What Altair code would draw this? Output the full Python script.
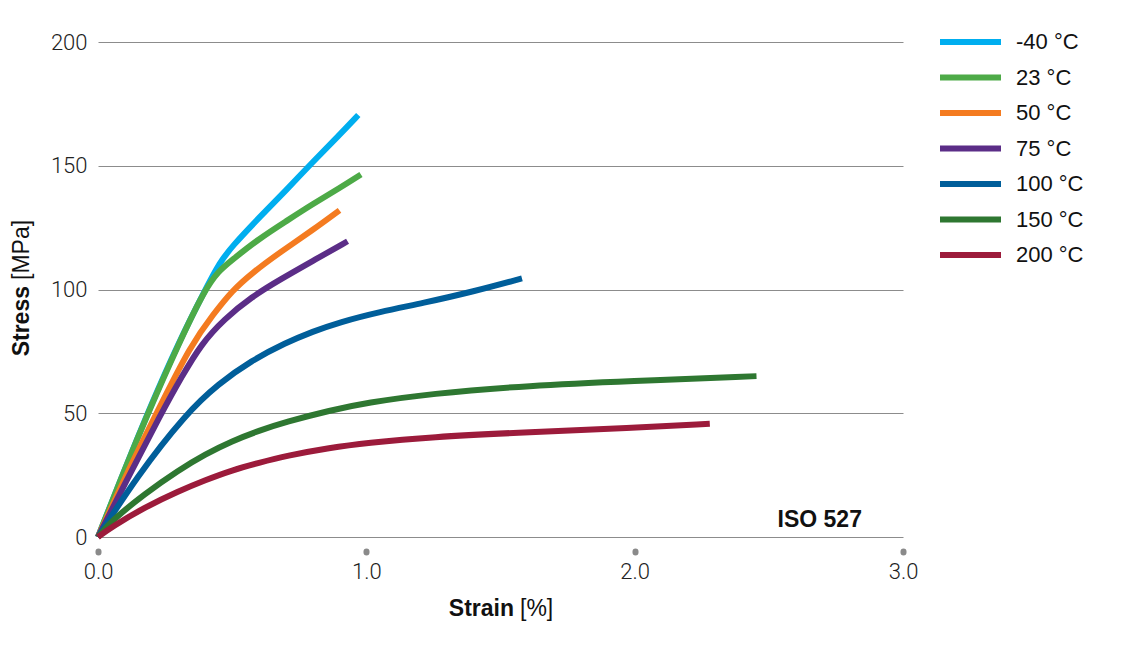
import altair as alt
import pandas as pd

temps = ["-40 °C", "23 °C", "50 °C", "75 °C", "100 °C", "150 °C", "200 °C"]
colors = ["#00AEEF", "#4DAA47", "#F47B20", "#5B2D87", "#005E9A", "#2E7731", "#9C1B3B"]

strain_m40 = [0, 0.1, 0.2, 0.3, 0.4, 0.454, 0.5, 0.6, 0.7, 0.8, 0.9, 0.97]
stress_m40 = [0, 27.5, 54, 78.5, 100, 111, 117.5, 129, 140, 151.5, 162.5, 170.5]

strain_23 = [0, 0.1, 0.186, 0.3, 0.398, 0.45, 0.497, 0.6, 0.7, 0.8, 0.9, 0.98]
stress_23 = [0, 27.5, 50, 78, 100, 107.5, 111.7, 120.5, 127.5, 134.5, 141, 146.5]

strain_50 = [0, 0.1, 0.218, 0.348, 0.43, 0.5, 0.572, 0.678, 0.8, 0.9]
stress_50 = [0, 24, 50, 78, 90, 99.5, 106.5, 115, 124, 132]

strain_75 = [0, 0.1, 0.236, 0.311, 0.385, 0.47, 0.572, 0.678, 0.8, 0.93]
stress_75 = [0, 21.5, 50, 64.6, 78, 88, 97, 104, 111.5, 119.5]

strain_100 = [0, 0.143, 0.329, 0.45, 0.572, 0.7, 0.8, 0.9, 1.05, 1.21, 1.4, 1.58]
stress_100 = [0, 24.2, 50, 62, 71.3, 78.5, 83, 86.8, 91, 94.5, 99.2, 104.5]

strain_150 = [0, 0.05, 0.174, 0.3, 0.4, 0.5, 0.6, 0.7, 0.866, 1.0, 1.236, 1.609, 1.982, 2.454]
stress_150 = [0, 6.5, 17.5, 27, 33.5, 38.8, 43, 46.5, 51.2, 54.2, 57.9, 61.2, 63.0, 65.0]

strain_200 = [0, 0.05, 0.174, 0.3, 0.4, 0.5, 0.6, 0.7, 0.866, 1.0, 1.236, 1.609, 1.982, 2.28]
stress_200 = [0, 4, 12, 18.5, 23, 27, 30, 32.8, 36.1, 38, 40.4, 42.4, 44.0, 45.8]

series = [
    (temps[0], strain_m40, stress_m40),
    (temps[1], strain_23, stress_23),
    (temps[2], strain_50, stress_50),
    (temps[3], strain_75, stress_75),
    (temps[4], strain_100, stress_100),
    (temps[5], strain_150, stress_150),
    (temps[6], strain_200, stress_200),
]

rows = []
for t, xs, ys in series:
    for x, y in zip(xs, ys):
        rows.append({"temp": t, "strain": x, "stress": y})
df = pd.DataFrame(rows)

x_ticks = [0, 1, 2, 3]
y_ticks = [0, 50, 100, 150, 200]

W, H = 805, 495
LABEL_FONT = "Roboto"
TEXT_FONT = "Liberation Sans"

xscale = alt.Scale(domain=[0, 3], nice=False, zero=True)
yscale = alt.Scale(domain=[0, 200], nice=False)

lines = alt.Chart(df).mark_line(strokeWidth=6, interpolate="basis", clip=False).encode(
    x=alt.X("strain:Q", scale=xscale,
            axis=alt.Axis(values=x_ticks, format=".1f", title=None, grid=False, domain=False,
                          offset=14, tickSize=1, tickWidth=6, tickCap="round", tickColor="#8a8a8a",
                          labelFont=LABEL_FONT, labelFontWeight=300, labelFontSize=22,
                          labelColor="#222", labelPadding=9, labelFlush=False)),
    y=alt.Y("stress:Q", scale=yscale,
            axis=alt.Axis(values=y_ticks, title=None, grid=True, gridColor="#8c8c8c", gridWidth=1,
                          domain=False, ticks=False, labelFont=LABEL_FONT, labelFontWeight=300,
                          labelFontSize=22, labelColor="#222", labelPadding=11)),
    color=alt.Color("temp:N", sort=temps,
                    scale=alt.Scale(domain=temps, range=colors),
                    legend=alt.Legend(title=None, orient="none", legendX=839, legendY=-11,
                                      symbolType="stroke", symbolSize=3721, symbolStrokeWidth=6,
                                      clipHeight=22, rowPadding=13.5, labelOffset=12,
                                      labelFont=TEXT_FONT, labelFontSize=22, labelColor="#111",
                                      padding=0)),
)

iso = alt.Chart(pd.DataFrame({"x": [2.847], "y": [6.9], "t": ["ISO 527"]})).mark_text(
    align="right", baseline="middle", font=TEXT_FONT, fontSize=23, fontWeight="bold", color="#111"
).encode(x=alt.X("x:Q", scale=xscale), y=alt.Y("y:Q", scale=yscale), text="t:N")

title_df = pd.DataFrame({"t": [""]})
xt1 = alt.Chart(title_df).mark_text(align="right", baseline="alphabetic", font=TEXT_FONT,
                                    fontSize=23, fontWeight="bold", color="#111").encode(
    x=alt.value(416), y=alt.value(574), text=alt.value("Strain"))
xt2 = alt.Chart(title_df).mark_text(align="left", baseline="alphabetic", font=TEXT_FONT,
                                    fontSize=23, color="#111").encode(
    x=alt.value(422), y=alt.value(574), text=alt.value("[%]"))
yt1 = alt.Chart(title_df).mark_text(align="right", baseline="middle", angle=270, font=TEXT_FONT,
                                    fontSize=23, fontWeight="bold", color="#111").encode(
    x=alt.value(-76), y=alt.value(244), text=alt.value("Stress"))
yt2 = alt.Chart(title_df).mark_text(align="left", baseline="middle", angle=270, font=TEXT_FONT,
                                    fontSize=23, color="#111").encode(
    x=alt.value(-76), y=alt.value(238), text=alt.value("[MPa]"))

chart = alt.layer(lines, iso, xt1, xt2, yt1, yt2).properties(
    width=W, height=H,
    autosize=alt.AutoSizeParams(type="none"),
    padding={"left": 90, "top": 34, "right": 235, "bottom": 120},
).configure(background="white", view=alt.ViewConfig(stroke=None))

chart.save("out.html", embed_options={"renderer": "svg", "actions": False})
